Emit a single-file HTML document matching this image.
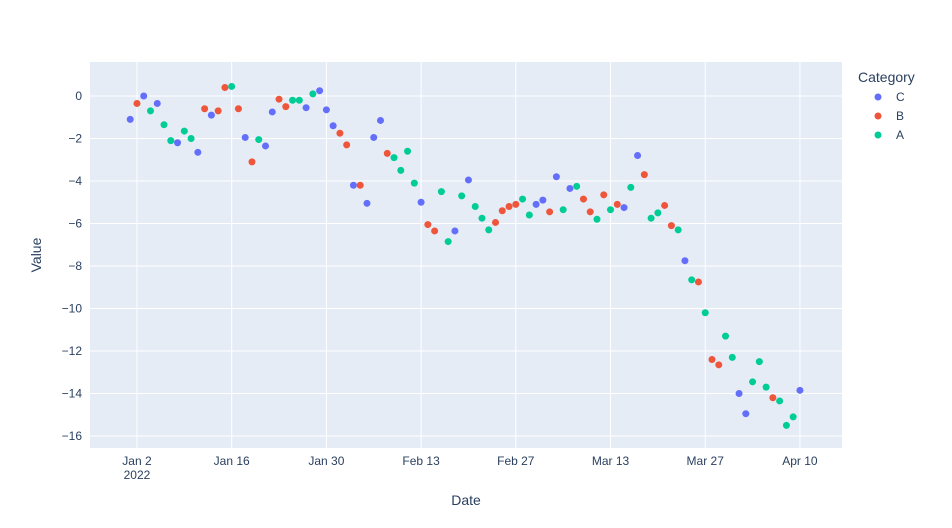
<!DOCTYPE html>
<html><head><meta charset="utf-8"><style>
html,body{margin:0;padding:0;background:#fff;}
svg{display:block;font-family:"Liberation Sans",Arial,sans-serif;}
</style></head><body>
<svg id="s" width="952" height="528" xmlns="http://www.w3.org/2000/svg">
<rect x="0" y="0" width="952" height="528" fill="#fff"/>
<rect x="90" y="62" width="752" height="386" fill="#E5ECF6"/>
<g id="grid" stroke="#fff" stroke-width="1"></g>
<g id="pts"></g>
<g font-size="12" fill="#2a3f5f" id="labels"></g>
<text x="466" y="505" font-size="14" fill="#2a3f5f" text-anchor="middle">Date</text>
<text x="41" y="255" font-size="14" fill="#2a3f5f" text-anchor="middle" transform="rotate(-90 41 255)">Value</text>
<text x="858" y="82" font-size="14" fill="#2a3f5f">Category</text>
<circle cx="878" cy="97" r="3.5" fill="#636efa"/><text x="896" y="101" font-size="12" fill="#2a3f5f">C</text>
<circle cx="878" cy="116" r="3.5" fill="#EF553B"/><text x="896" y="120" font-size="12" fill="#2a3f5f">B</text>
<circle cx="878" cy="135" r="3.5" fill="#00cc96"/><text x="896" y="139" font-size="12" fill="#2a3f5f">A</text>
</svg>
<script>
var ns="http://www.w3.org/2000/svg";
function el(p,t,a,txt){var e=document.createElementNS(ns,t);for(var k in a)e.setAttribute(k,a[k]);if(txt!=null)e.textContent=txt;p.appendChild(e);return e;}
var g=document.getElementById('grid'),L=document.getElementById('labels'),P=document.getElementById('pts');
function Y(v){return 96-v*21.25;}
for(var v=0;v>=-16;v-=2){var y=Y(v);el(g,'line',{x1:90,x2:842,y1:y,y2:y});el(L,'text',{x:82,y:y+4,'text-anchor':'end'},v==0?'0':'\u2212'+(-v));}
var ticks=[['Jan 2',1],['Jan 16',15],['Jan 30',29],['Feb 13',43],['Feb 27',57],['Mar 13',71],['Mar 27',85],['Apr 10',99]];
function X(d){return 130.2+d*6.765;}
ticks.forEach(function(t){var x=X(t[1]);el(g,'line',{x1:x,x2:x,y1:62,y2:448});el(L,'text',{x:x,y:465,'text-anchor':'middle'},t[0]);});
el(L,'text',{x:X(1),y:479,'text-anchor':'middle'},'2022');
var d="C-1.1 B-0.35 C0 A-0.7 C-0.35 A-1.35 A-2.1 C-2.2 A-1.65 A-2.0 C-2.65 B-0.6 C-0.9 B-0.7 B0.4 A0.45 B-0.6 C-1.95 B-3.1 A-2.05 C-2.35 C-0.75 B-0.15 B-0.5 A-0.2 A-0.2 C-0.55 A0.1 C0.25 C-0.65 C-1.4 B-1.75 B-2.3 C-4.2 B-4.2 C-5.05 C-1.95 C-1.15 B-2.7 A-2.9 A-3.5 A-2.6 A-4.1 C-5.0 B-6.05 B-6.35 A-4.5 A-6.85 C-6.35 A-4.7 C-3.95 A-5.2 A-5.75 A-6.3 B-5.95 B-5.4 B-5.2 B-5.1 A-4.85 A-5.6 C-5.1 C-4.9 B-5.45 C-3.8 A-5.35 C-4.35 A-4.25 B-4.85 B-5.45 A-5.8 B-4.65 A-5.35 B-5.1 C-5.25 A-4.3 C-2.8 B-3.7 A-5.75 A-5.5 B-5.15 B-6.1 A-6.3 C-7.75 A-8.65 B-8.75 A-10.2 B-12.4 B-12.65 A-11.3 A-12.3 C-14.0 C-14.95 A-13.45 A-12.5 A-13.7 B-14.2 A-14.35 A-15.5 A-15.1 C-13.85".split(' ');
var col={C:'#636efa',B:'#EF553B',A:'#00cc96'};
d.forEach(function(s,i){el(P,'circle',{cx:X(i),cy:Y(parseFloat(s.slice(1))),r:3.5,fill:col[s[0]]});});
</script>
</body></html>
